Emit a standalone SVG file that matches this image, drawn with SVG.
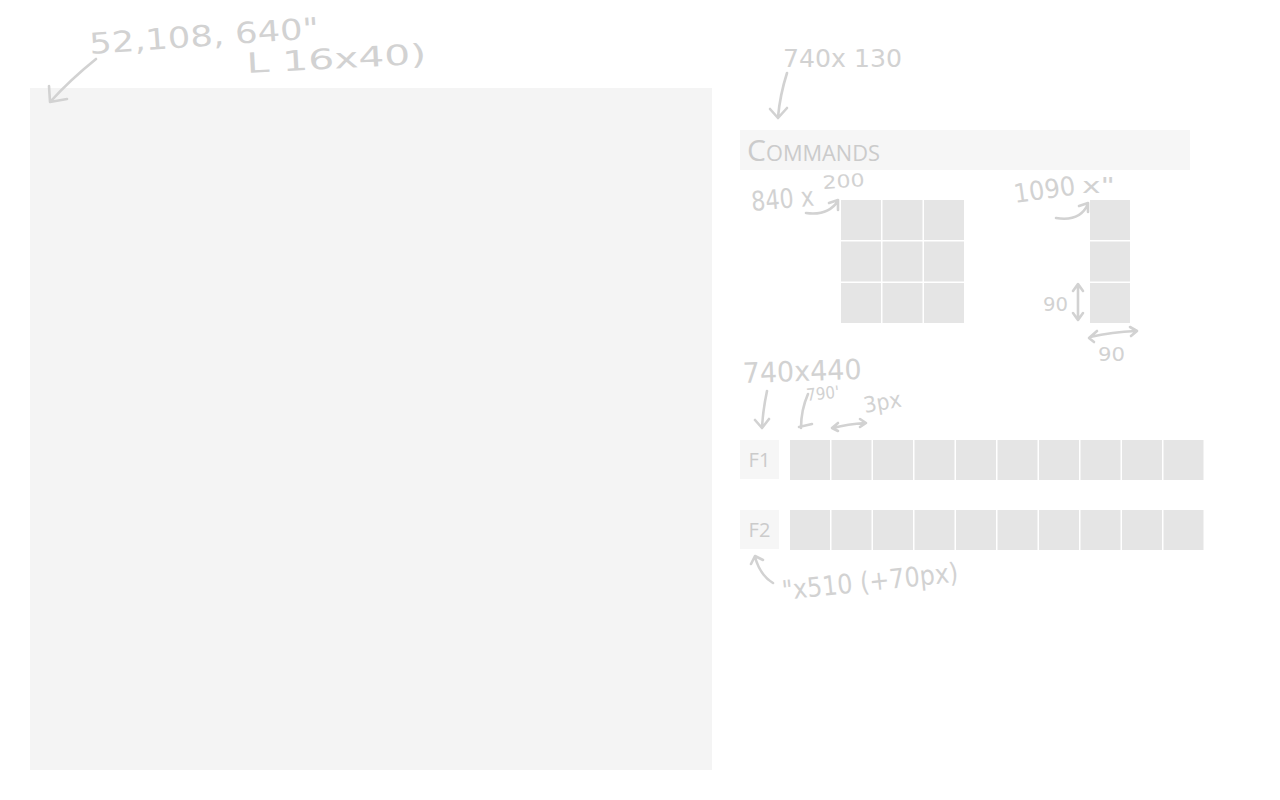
<svg xmlns="http://www.w3.org/2000/svg" width="1280" height="800" viewBox="0 0 1280 800">
<style>
.hand{font-family:"DejaVu Sans","Liberation Sans",sans-serif;fill:#d2d2d2;}
.ink{fill:none;stroke:#d2d2d2;stroke-width:2.6;stroke-linecap:round;stroke-linejoin:round;}
.cell{fill:#e5e5e5;}
.bar{fill:#f6f6f6;}
.lbl{font-family:"Open Sans","DejaVu Sans",sans-serif;fill:#cbcbcb;}
</style>
<rect width="1280" height="800" fill="#ffffff"/>
<g id="main-panel"><rect x="30" y="88" width="682" height="682" fill="#f4f4f4"/></g>
<g id="commands"><rect class="bar" x="740" y="130" width="450" height="40"/>
<text class="lbl" x="747" y="161" font-size="29" textLength="133" lengthAdjust="spacingAndGlyphs">C<tspan font-size="21">OMMANDS</tspan></text></g>
<g id="grid3x3">
<rect class="cell" x="841" y="200" width="40" height="40"/><rect class="cell" x="882.5" y="200" width="40" height="40"/><rect class="cell" x="924" y="200" width="40" height="40"/>
<rect class="cell" x="841" y="241.5" width="40" height="40"/><rect class="cell" x="882.5" y="241.5" width="40" height="40"/><rect class="cell" x="924" y="241.5" width="40" height="40"/>
<rect class="cell" x="841" y="283" width="40" height="40"/><rect class="cell" x="882.5" y="283" width="40" height="40"/><rect class="cell" x="924" y="283" width="40" height="40"/>
</g>
<g id="column"><rect class="cell" x="1090" y="200" width="40" height="40"/><rect class="cell" x="1090" y="241.5" width="40" height="40"/><rect class="cell" x="1090" y="283" width="40" height="40"/></g>
<g id="f1"><rect class="bar" x="740" y="440" width="39" height="39"/><text class="lbl" x="759.5" y="467" font-size="20" text-anchor="middle">F1</text>
<rect class="cell" x="790" y="440" width="40" height="40"/><rect class="cell" x="831.5" y="440" width="40" height="40"/><rect class="cell" x="873" y="440" width="40" height="40"/><rect class="cell" x="914.5" y="440" width="40" height="40"/><rect class="cell" x="956" y="440" width="40" height="40"/><rect class="cell" x="997.5" y="440" width="40" height="40"/><rect class="cell" x="1039" y="440" width="40" height="40"/><rect class="cell" x="1080.5" y="440" width="40" height="40"/><rect class="cell" x="1122" y="440" width="40" height="40"/><rect class="cell" x="1163.5" y="440" width="40" height="40"/></g>
<g id="f2"><rect class="bar" x="740" y="510" width="39" height="39"/><text class="lbl" x="759.5" y="537" font-size="20" text-anchor="middle">F2</text>
<rect class="cell" x="790" y="510" width="40" height="40"/><rect class="cell" x="831.5" y="510" width="40" height="40"/><rect class="cell" x="873" y="510" width="40" height="40"/><rect class="cell" x="914.5" y="510" width="40" height="40"/><rect class="cell" x="956" y="510" width="40" height="40"/><rect class="cell" x="997.5" y="510" width="40" height="40"/><rect class="cell" x="1039" y="510" width="40" height="40"/><rect class="cell" x="1080.5" y="510" width="40" height="40"/><rect class="cell" x="1122" y="510" width="40" height="40"/><rect class="cell" x="1163.5" y="510" width="40" height="40"/></g>
<g id="annotations">
<text class="hand" x="90" y="54" font-size="29" textLength="230" lengthAdjust="spacingAndGlyphs" transform="rotate(-4 90 54)">52,108, 640"</text>
<text class="hand" x="247" y="73" font-size="28" textLength="180" lengthAdjust="spacingAndGlyphs" transform="rotate(-3 247 73)">L 16x40)</text>
<text class="hand" x="783" y="67" font-size="25" textLength="119" lengthAdjust="spacingAndGlyphs">740x 130</text>
<text class="hand" x="752" y="211" font-size="27" textLength="63" lengthAdjust="spacingAndGlyphs" transform="rotate(-5 752 211)">840 x</text>
<text class="hand" x="823" y="189" font-size="18" textLength="42" lengthAdjust="spacingAndGlyphs" transform="rotate(-4 823 189)">200</text>
<text class="hand" x="1015" y="203" font-size="26" textLength="62" lengthAdjust="spacingAndGlyphs" transform="rotate(-8 1015 203)">1090</text>
<text class="hand" x="1082" y="193" font-size="22" textLength="33" lengthAdjust="spacingAndGlyphs">x"</text>
<text class="hand" x="1043" y="311" font-size="20" textLength="25" lengthAdjust="spacingAndGlyphs">90</text>
<text class="hand" x="1098" y="361" font-size="20" textLength="27" lengthAdjust="spacingAndGlyphs">90</text>
<text class="hand" x="743" y="383" font-size="28" textLength="119" lengthAdjust="spacingAndGlyphs" transform="rotate(-2 743 383)">740x440</text>
<text class="hand" x="807" y="401" font-size="17" textLength="33" lengthAdjust="spacingAndGlyphs" transform="rotate(-6 807 401)">790'</text>
<text class="hand" x="865" y="413" font-size="22" textLength="38" lengthAdjust="spacingAndGlyphs" transform="rotate(-10 865 413)">3px</text>
<text class="hand" x="783" y="600" font-size="27" textLength="177" lengthAdjust="spacingAndGlyphs" transform="rotate(-6 783 600)">"x510 (+70px)</text>
</g>
<g id="connectors">
<path class="ink" d="M96 59 Q70 80 51 101 M49 86 L50 102 L67 99"/>
<path class="ink" d="M787 73 Q780 95 778 117 M770 109 L778 118 L787 108"/>
<path class="ink" d="M806 213 Q828 216 838 201 M829 203 L838 200 L838 210"/>
<path class="ink" d="M1056 218 Q1080 222 1088 204 M1079 206 L1088 203 L1088 212"/>
<path class="ink" d="M1078 285 L1078 319 M1073 291 L1078 284 L1083 291 M1073 313 L1078 320 L1083 313"/>
<path class="ink" d="M1090 337 Q1112 332 1136 331 M1097 331 L1089 338 L1094 342 M1130 327 L1137 331 L1131 336"/>
<path class="ink" d="M767 391 Q763 410 762 427 M755 420 L762 428 L769 419"/>
<path class="ink" d="M808 394 Q801 410 801 428 M799 427 L812 424"/>
<path class="ink" d="M833 428 Q848 424 865 423 M838 423 L832 428 L838 431 M860 419 L866 423 L860 427"/>
<path class="ink" d="M773 583 Q760 575 755 557 M751 564 L755 556 L763 560"/>
</g>
</svg>
